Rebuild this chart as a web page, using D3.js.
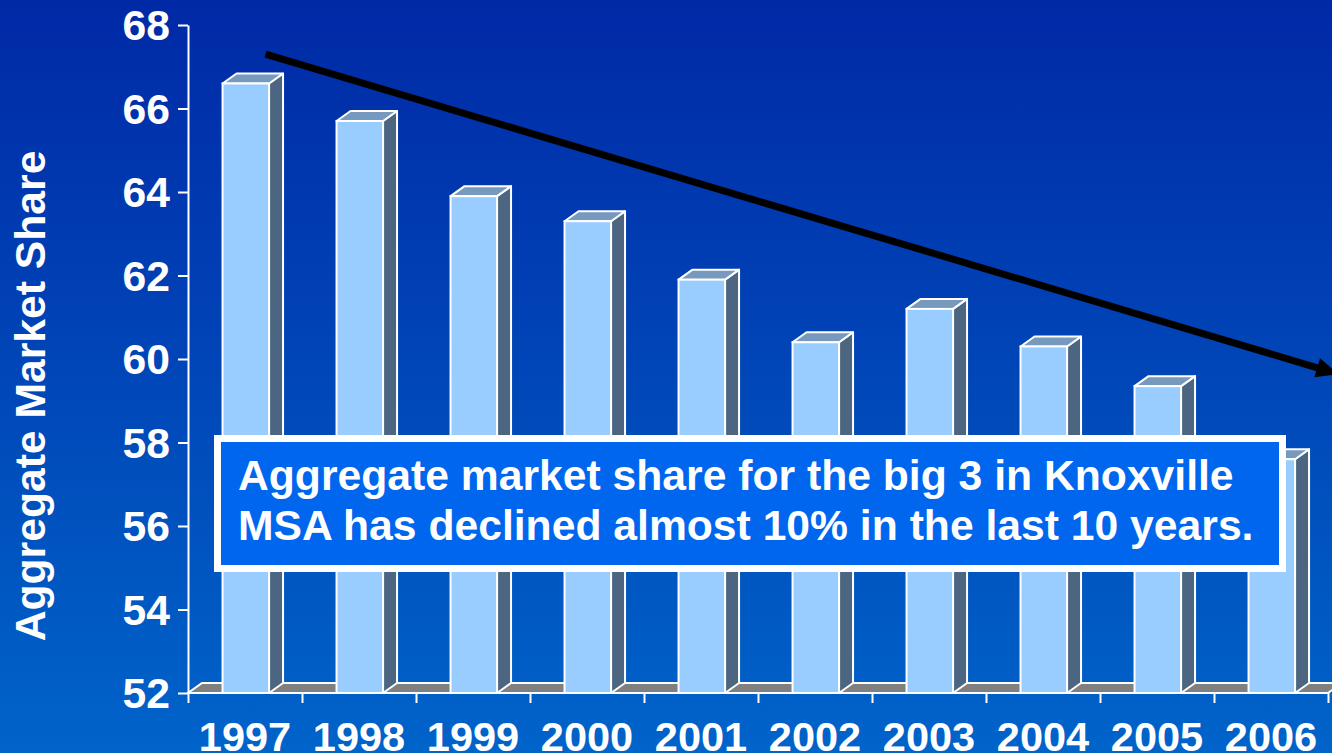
<!DOCTYPE html>
<html>
<head>
<meta charset="utf-8">
<script src="https://cdn.jsdelivr.net/npm/d3@7"></script>
<style>
  html, body { margin: 0; padding: 0; overflow: hidden; background: #0040b0; }
  svg { display: block; }
  text { font-family: "Liberation Sans", Arial, Helvetica, sans-serif; font-weight: bold; fill: #ffffff; }
</style>
</head>
<body>
<svg id="chart" width="1332" height="753"></svg>
<script>
// Aggregate market share of the big 3 banks, Knoxville MSA
const years = ["1997", "1998", "1999", "2000", "2001", "2002", "2003", "2004", "2005", "2006"];
const marketShare = [66.6, 65.7, 63.9, 63.3, 61.9, 60.4, 61.2, 60.3, 59.35, 57.6];
const yTickValues = [52, 54, 56, 58, 60, 62, 64, 66, 68];
const yAxisTitle = "Aggregate Market Share";
const calloutLines = [
  "Aggregate market share for the big 3 in Knoxville",
  "MSA has declined almost 10% in the last 10 years."
];
// Trend arrow, in (category index, value) space
const trendFrom = [0.68, 67.3];
const trendTo = [10.09, 59.64];

const W = 1332, H = 753;
const FONT = 42.67;
const svg = d3.select("#chart");

// Background gradient
const defs = svg.append("defs");
const bg = defs.append("linearGradient").attr("id", "bg")
  .attr("x1", 0).attr("y1", 0).attr("x2", 0).attr("y2", 1);
bg.append("stop").attr("offset", "0%").attr("stop-color", "#0029a6");
bg.append("stop").attr("offset", "100%").attr("stop-color", "#0064ca");
svg.append("rect").attr("width", W).attr("height", H).attr("fill", "url(#bg)");

// Scales
const x = d3.scaleBand().domain(years).range([188, 1328]).paddingInner(0).paddingOuter(0);
const xi = d3.scaleLinear().domain([0, years.length]).range([188, 1328]);
const y = d3.scaleLinear().domain([52, 68]).range([693, 25]);

const depthX = 14, depthY = 10;
const barOffset = x.bandwidth() * 0.303;
const barW = x.bandwidth() * 0.408;
const y0 = y(52);

// Floor
svg.append("polygon")
  .attr("points", [[xi(0), y0], [xi(years.length), y0],
                   [xi(years.length) + depthX, y0 - depthY], [xi(0) + depthX, y0 - depthY]].join(" "))
  .attr("fill", "#808080").attr("stroke", "#ffffff").attr("stroke-width", 2);

// 3D columns
const bars = svg.append("g").selectAll("g").data(years.map((yr, i) => ({ yr, v: marketShare[i] })))
  .join("g");

bars.append("polygon") // side face
  .attr("points", d => {
    const x1 = x(d.yr) + barOffset + barW, yt = y(d.v);
    return [[x1, yt], [x1 + depthX, yt - depthY], [x1 + depthX, y0 - depthY], [x1, y0]].join(" ");
  })
  .attr("fill", "#4c6681").attr("stroke", "#ffffff").attr("stroke-width", 2).attr("stroke-linejoin", "round");

bars.append("polygon") // top face
  .attr("points", d => {
    const xa = x(d.yr) + barOffset, xb = xa + barW, yt = y(d.v);
    return [[xa, yt], [xa + depthX, yt - depthY], [xb + depthX, yt - depthY], [xb, yt]].join(" ");
  })
  .attr("fill", "#7799bd").attr("stroke", "#ffffff").attr("stroke-width", 2).attr("stroke-linejoin", "round");

bars.append("rect") // front face
  .attr("x", d => x(d.yr) + barOffset)
  .attr("y", d => y(d.v))
  .attr("width", barW)
  .attr("height", d => y0 - y(d.v))
  .attr("fill", "#99ccff").attr("stroke", "#ffffff").attr("stroke-width", 2);

// Y axis
const yAxis = svg.append("g").attr("transform", "translate(188,0)")
  .call(d3.axisLeft(y).tickValues(yTickValues).tickSize(10).tickSizeOuter(0).tickPadding(8).tickFormat(d3.format("d")));
yAxis.select(".domain").attr("stroke", "#ffffff").attr("stroke-width", 2);
yAxis.selectAll(".tick line").attr("stroke", "#ffffff").attr("stroke-width", 2);
yAxis.selectAll(".tick text").attr("font-size", FONT).attr("fill", "#ffffff")
  .attr("font-family", null).attr("dy", "0.35em");

// X axis tick marks at category boundaries
const xTicks = svg.append("g").attr("transform", `translate(0,${y0})`)
  .call(d3.axisBottom(xi).tickValues(d3.range(years.length + 1)).tickSize(10).tickSizeOuter(0).tickFormat(""));
xTicks.select(".domain").remove();
xTicks.selectAll(".tick line").attr("stroke", "#ffffff").attr("stroke-width", 2);

// X axis labels at category centres
const xLabels = svg.append("g").attr("transform", `translate(0,${y0})`)
  .call(d3.axisBottom(x).tickSize(0).tickPadding(0));
xLabels.select(".domain").remove();
xLabels.selectAll(".tick text").attr("font-size", 41.5).attr("font-family", null)
  .attr("fill", "#ffffff").attr("y", 57.5).attr("dy", 0);

// Y axis title
svg.append("text")
  .attr("transform", "translate(45,396) rotate(-90)")
  .attr("text-anchor", "middle")
  .attr("font-size", FONT)
  .text(yAxisTitle);

// Callout box
svg.append("rect")
  .attr("x", 217.5).attr("y", 438.5).attr("width", 1065).attr("height", 130)
  .attr("fill", "#0066ee").attr("stroke", "#ffffff").attr("stroke-width", 7);
svg.append("g").selectAll("text").data(calloutLines).join("text")
  .attr("x", 238).attr("y", (d, i) => 490 + i * 50)
  .attr("font-size", FONT)
  .text(d => d);

// Trend arrow
const p0 = [xi(trendFrom[0]), y(trendFrom[1])];
const p1 = [xi(trendTo[0]), y(trendTo[1])];
const ang = Math.atan2(p1[1] - p0[1], p1[0] - p0[0]);
const headLen = 22, headHalf = 10;
const ux = Math.cos(ang), uy = Math.sin(ang);
const base = [p1[0] - ux * headLen, p1[1] - uy * headLen];
svg.append("line")
  .attr("x1", p0[0]).attr("y1", p0[1]).attr("x2", base[0] + ux * 2).attr("y2", base[1] + uy * 2)
  .attr("stroke", "#000000").attr("stroke-width", 7);
svg.append("polygon")
  .attr("points", [p1, [base[0] - uy * headHalf, base[1] + ux * headHalf], [base[0] + uy * headHalf, base[1] - ux * headHalf]].join(" "))
  .attr("fill", "#000000");
</script>
</body>
</html>
